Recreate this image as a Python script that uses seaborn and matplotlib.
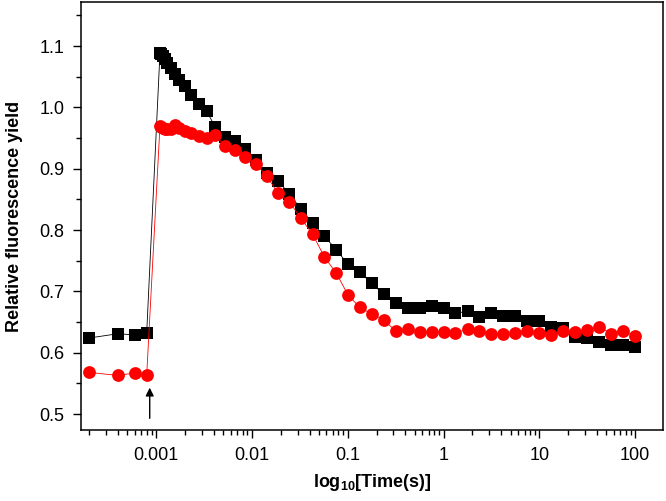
import numpy as np
import matplotlib
matplotlib.use("Agg")
import matplotlib.pyplot as plt
from matplotlib.ticker import LogLocator, MultipleLocator, FixedLocator, FixedFormatter, NullFormatter
import seaborn as sns

# --- data ---
# dark-adapted points before the flash (s)
pre_time = [0.0002, 0.0004, 0.0006, 0.0008]
pre_black = [0.624, 0.631, 0.629, 0.633]
pre_red = [0.568, 0.563, 0.567, 0.564]

# flash is fired at 1 ms, measuring points after it are 8 per decade
flash_time = 0.001
post_time = [1.00e-4, 1.33e-4, 1.78e-4, 2.37e-4, 3.16e-4, 4.22e-4, 5.62e-4, 7.50e-4,
             1.00e-3, 1.33e-3, 1.78e-3, 2.37e-3, 3.16e-3, 4.22e-3, 5.62e-3, 7.50e-3,
             0.0100, 0.0133, 0.0178, 0.0237, 0.0316, 0.0422, 0.0562, 0.0750,
             0.100, 0.133, 0.178, 0.237, 0.316, 0.422, 0.562, 0.750,
             1.00, 1.33, 1.78, 2.37, 3.16, 4.22, 5.62, 7.50,
             10.0, 13.3, 17.8, 23.7, 31.6, 42.2, 56.2, 75.0,
             100.0]
post_black = [1.089, 1.087, 1.084, 1.079, 1.072, 1.064, 1.054, 1.045,
              1.035, 1.020, 1.005, 0.994, 0.968, 0.952, 0.945, 0.932,
              0.914, 0.893, 0.880, 0.859, 0.834, 0.811, 0.790, 0.768,
              0.744, 0.731, 0.713, 0.695, 0.681, 0.673, 0.673, 0.676,
              0.673, 0.664, 0.668, 0.658, 0.664, 0.660, 0.660, 0.651,
              0.652, 0.642, 0.640, 0.625, 0.624, 0.617, 0.612, 0.612,
              0.609]
post_red = [0.970, 0.968, 0.966, 0.965, 0.965, 0.965, 0.971, 0.966,
            0.961, 0.958, 0.953, 0.951, 0.955, 0.937, 0.930, 0.919,
            0.908, 0.888, 0.860, 0.846, 0.819, 0.793, 0.756, 0.730,
            0.694, 0.674, 0.663, 0.654, 0.635, 0.638, 0.634, 0.634,
            0.634, 0.633, 0.638, 0.636, 0.630, 0.630, 0.632, 0.635,
            0.632, 0.629, 0.636, 0.634, 0.637, 0.642, 0.631, 0.635,
            0.627]

x_ticks = [0.001, 0.01, 0.1, 1, 10, 100]
x_tick_labels = ["0.001", "0.01", "0.1", "1", "10", "100"]
y_ticks = [0.5, 0.6, 0.7, 0.8, 0.9, 1.0, 1.1]
y_tick_labels = ["0.5", "0.6", "0.7", "0.8", "0.9", "1.0", "1.1"]

arrow_x = 0.00086
arrow_y = (0.493, 0.543)

# --- style ---
sns.set_style("ticks")
plt.rcParams['font.family'] = ['Liberation Sans', 'DejaVu Sans']
plt.rcParams['mathtext.fontset'] = 'custom'
plt.rcParams['mathtext.rm'] = 'Liberation Sans'
plt.rcParams['mathtext.bf'] = 'Liberation Sans:bold'

time = np.array(pre_time + [flash_time + t for t in post_time])
black = np.array(pre_black + post_black)
red = np.array(pre_red + post_red)

fig = plt.figure(figsize=(6.66, 5.01), dpi=100)
ax = fig.add_axes([81 / 666, 71 / 501, 582 / 666, 428 / 501])

sns.lineplot(x=time, y=black, ax=ax, color='black', linewidth=0.6,
             marker='s', markersize=8.5, markeredgewidth=0,
             estimator=None, sort=False)
sns.lineplot(x=time, y=red, ax=ax, color='#ff0000', linewidth=0.6,
             marker='o', markersize=9.2, markeredgewidth=0,
             estimator=None, sort=False)

ax.set_xscale('log')
ax.set_xlim(1.65e-4, 195)
ax.set_ylim(0.474, 1.172)

ax.xaxis.set_major_locator(FixedLocator(x_ticks))
ax.xaxis.set_major_formatter(FixedFormatter(x_tick_labels))
ax.xaxis.set_minor_locator(LogLocator(base=10, subs=np.arange(2, 10), numticks=20))
ax.xaxis.set_minor_formatter(NullFormatter())
ax.yaxis.set_major_locator(FixedLocator(y_ticks))
ax.yaxis.set_major_formatter(FixedFormatter(y_tick_labels))
ax.yaxis.set_minor_locator(MultipleLocator(0.05))

ax.tick_params(which='major', direction='out', length=6, width=1.0,
               labelsize=13, pad=6, color='black', labelcolor='black')
ax.tick_params(which='minor', direction='out', length=3.5, width=1.0, color='black')
ax.tick_params(top=False, right=False, which='both')

for s in ax.spines.values():
    s.set_visible(True)
    s.set_linewidth(1.1)
    s.set_color('black')

ax.set_xlabel(r'log$_{\mathbf{10}}$[Time(s)]', fontsize=13, fontweight='bold',
              labelpad=6, color='black')
ax.set_ylabel('Relative fluorescence yield', fontsize=13, fontweight='bold',
              labelpad=12, color='black')

# arrow marking the actinic flash
ax.annotate('', xy=(arrow_x, arrow_y[1]), xytext=(arrow_x, arrow_y[0]),
            arrowprops=dict(arrowstyle='-|>', color='black', lw=1.0,
                            mutation_scale=12, shrinkA=0, shrinkB=0))

fig.savefig('out.png', dpi=100)
